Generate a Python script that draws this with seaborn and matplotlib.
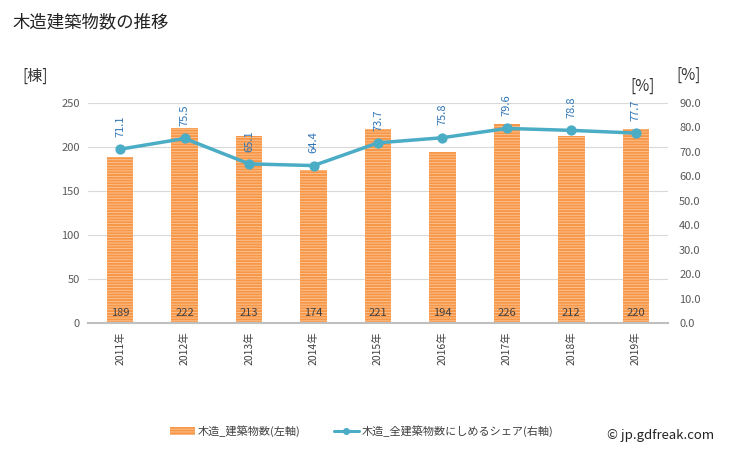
import matplotlib
matplotlib.use("Agg")
import matplotlib.pyplot as plt
import seaborn as sns
import numpy as np
from matplotlib.lines import Line2D
from matplotlib.patches import Patch

years = ["2011年", "2012年", "2013年", "2014年", "2015年", "2016年", "2017年", "2018年", "2019年"]
counts = [189, 222, 213, 174, 221, 194, 226, 212, 220]
share = [71.1, 75.5, 65.1, 64.4, 73.7, 75.8, 79.6, 78.8, 77.7]
left_ticks = [0, 50, 100, 150, 200, 250]
right_ticks = [0, 10, 20, 30, 40, 50, 60, 70, 80, 90]

sns.set_style("white")
plt.rcParams['font.family'] = ['Noto Sans CJK JP', 'DejaVu Sans']
plt.rcParams['hatch.linewidth'] = 0.6

bar_color = "#F79646"
line_color = "#4BACC6"
label_blue = "#2E75B6"

fig = plt.figure(figsize=(7.29, 4.5), dpi=100)
ax = fig.add_axes([88/729, 1-323/450, 580/729, 220/450])

sns.barplot(x=years, y=counts, ax=ax, color=bar_color, width=0.41, saturation=1)
for p in ax.patches:
    p.set_hatch("------")
    p.set_edgecolor("#FBC79A")
    p.set_linewidth(0)

ax.set_ylim(0, 250)
ax.set_yticks(left_ticks)
ax.set_yticklabels([str(t) for t in left_ticks], fontsize=8, color="#595959")
ax.yaxis.grid(True, color="#D9D9D9", linewidth=0.8)
ax.set_axisbelow(True)
for s in ["top", "right", "left"]:
    ax.spines[s].set_visible(False)
ax.spines["bottom"].set_color("#BFBFBF")
ax.spines["bottom"].set_linewidth(1.5)
ax.tick_params(axis="both", length=0, pad=6)
ax.set_xticks(range(len(years)))
ax.set_xticklabels(years, rotation=90, fontsize=7.5, color="#404040")
ax.set_xlabel("")
ax.set_ylabel("")
ax.set_xlim(-0.5, len(years) - 0.5)

for i, c in enumerate(counts):
    ax.text(i, 6, str(c), ha="center", va="bottom", fontsize=8, color="#404040")

ax2 = ax.twinx()
sns.pointplot(x=years, y=share, ax=ax2, color=line_color, markers="o",
              markersize=5.5, linewidth=2.5)
ax2.set_ylim(0, 90)
ax2.set_yticks(right_ticks)
ax2.set_yticklabels([f"{t:.1f}" for t in right_ticks], fontsize=8, color="#595959")
ax2.set_xlim(-0.5, len(years) - 0.5)
for s in ["top", "right", "left", "bottom"]:
    ax2.spines[s].set_visible(False)
ax2.tick_params(axis="y", length=0, pad=8)
ax2.set_ylabel("")
ax2.set_xlabel("")

for i, v in enumerate(share):
    ax2.text(i, v + 5, f"{v}", rotation=90, ha="center", va="bottom",
             fontsize=8, color=label_blue)

fig.text(12/729, 1-22/450, "木造建築物数の推移", fontsize=12.5, va="center", ha="left", color="#222222")
fig.text(22/729, 1-76/450, "[棟]", fontsize=11, va="center", ha="left", color="#333333")
fig.text(630/729, 1-86/450, "[%]", fontsize=11, va="center", ha="left", color="#333333")
fig.text(676/729, 1-75/450, "[%]", fontsize=11, va="center", ha="left", color="#333333")

handles = [Patch(facecolor=bar_color, edgecolor="#FBC79A", hatch="------", linewidth=0),
           Line2D([0], [0], color=line_color, marker="o", markersize=4, linewidth=2.2)]
leg = fig.legend(handles, ["木造_建築物数(左軸)", "木造_全建築物数にしめるシェア(右軸)"],
                 loc="center", bbox_to_anchor=(362/729, 1-431/450), ncol=2,
                 frameon=False, fontsize=8, columnspacing=3, handlelength=2.2,
                 handletextpad=0.3)
for t in leg.get_texts():
    t.set_color("#404040")

fig.text(714/729, 1-435/450, "© jp.gdfreak.com", fontsize=9.5, ha="right", va="center", color="#222222")

fig.savefig("out.png", dpi=100)
